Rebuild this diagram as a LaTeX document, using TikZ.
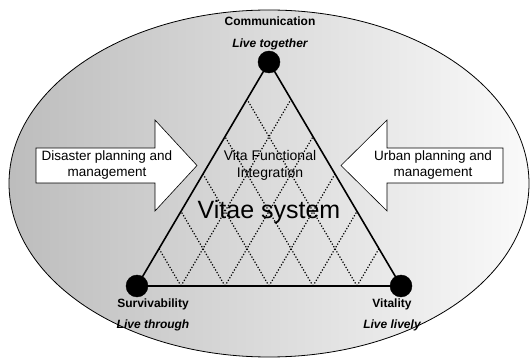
\documentclass[tikz,border=0pt]{standalone}
\usepackage{fontspec}
\setmainfont{Liberation Sans}
\usetikzlibrary{calc}
\begin{document}
\begin{tikzpicture}[x=1pt,y=-1pt,
  vertex/.style={circle,fill=black,draw=black,minimum size=22pt,inner sep=0pt},
  tri/.style={line width=1.6pt,black},
  lattice/.style={line width=1.2pt,dash pattern=on 1.2pt off 1.8pt},
  arrowbox/.style={draw=black,line width=0.6pt,fill=white},
  boxtext/.style={align=center,inner sep=0pt,font=\fontsize{13.5}{16}\selectfont},
  headlabel/.style={anchor=base,inner sep=0pt,font=\fontsize{12}{14}\selectfont\bfseries},
  sublabel/.style={anchor=base,inner sep=0pt,font=\fontsize{12}{14}\selectfont\bfseries\itshape}]
\useasboundingbox (0,0) rectangle (531,358);
\path[draw=black,line width=0.8pt,left color=black!26,right color=black!2]
  (269,183.5) ellipse [x radius=260pt,y radius=173.5pt];
% arrows
\draw[arrowbox] (36,148) -- (155,148) -- (155,120) -- (197,165.5) -- (155,211) -- (155,183) -- (36,183) -- cycle;
\node[boxtext] (dis) at (107,165.5) {Disaster planning and\\management};
\draw[arrowbox] (503,148) -- (387,148) -- (387,120) -- (341,165.5) -- (387,211) -- (387,183) -- (503,183) -- cycle;
\node[boxtext] (urb) at (433,165.5) {Urban planning and\\management};
% triangle
\coordinate (A) at (269,62);
\coordinate (B) at (137,286);
\coordinate (C) at (401,286);
\foreach \k in {1,...,5}{
  \draw[lattice] ($(B)!\k/6!(C)$) -- ($(A)!\k/6!(C)$);
  \draw[lattice] ($(B)!\k/6!(C)$) -- ($(B)!\k/6!(A)$);
}
\node[align=center,inner sep=0pt,font=\fontsize{14}{17}\selectfont] (vfi) at (270,165.5) {Vita Functional\\Integration};
\node[anchor=base,inner sep=0pt,font=\fontsize{25}{30}\selectfont] (vs) at (269,219) {Vitae system};
\draw[tri] (A) -- (B) -- (C) -- cycle;
\node[vertex] (top) at (A) {};
\node[vertex] (bl) at (B) {};
\node[vertex] (br) at (C) {};
% labels
\node[headlabel] (com) at (270,25.5) {Communication};
\node[sublabel] (tog) at (270,48) {Live together};
\node[headlabel] (sur) at (153,307.5) {Survivability};
\node[sublabel] (thr) at (153,329) {Live through};
\node[headlabel] (vit) at (392,307.5) {Vitality};
\node[sublabel] (liv) at (392,329) {Live lively};
\end{tikzpicture}
\end{document}
